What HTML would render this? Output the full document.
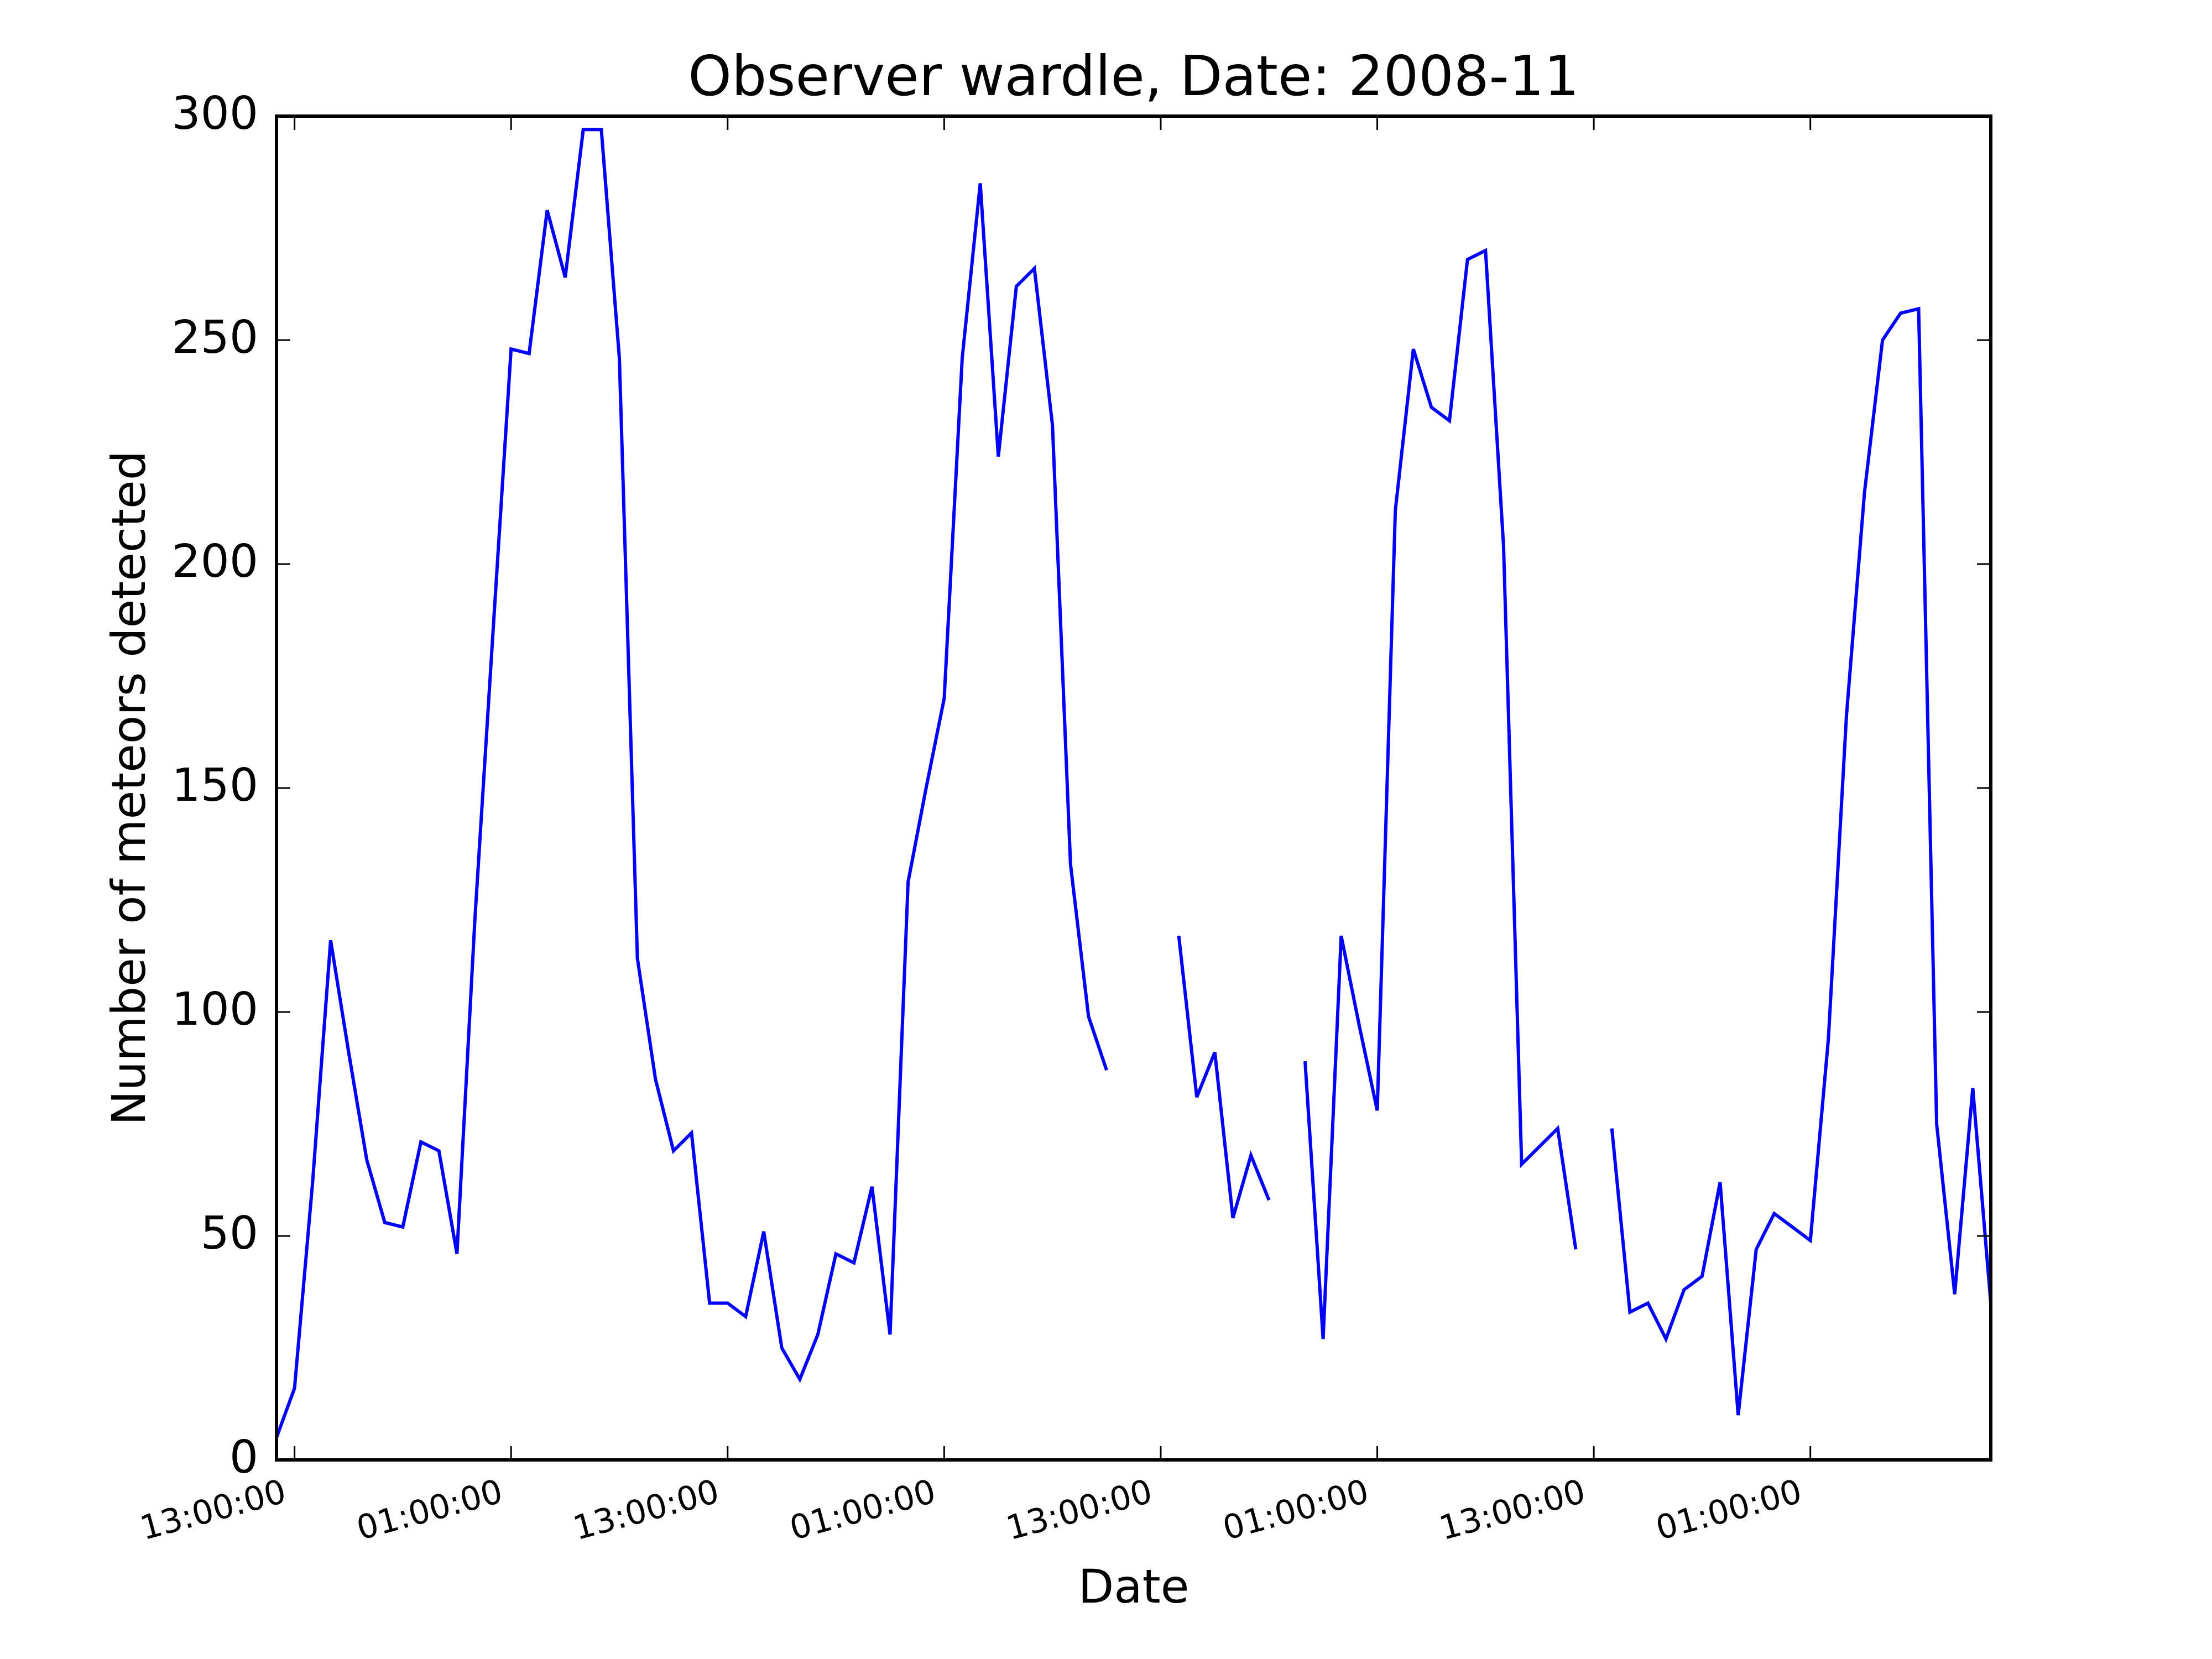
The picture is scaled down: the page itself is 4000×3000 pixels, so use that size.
<!DOCTYPE html>
<html><head><meta charset="utf-8"><style>
html,body{margin:0;padding:0;background:#fff;}
svg{display:block;font-family:"DejaVu Sans","Liberation Sans",sans-serif;}
</style></head><body>
<svg id="chart" width="4000" height="3000" viewBox="0 0 4000 3000">
<rect width="4000" height="3000" fill="#fff"/>
<text x="2050" y="172" text-anchor="middle" font-size="100">Observer wardle, Date: 2008-11</text>
<g id="lines"></g>
<rect x="500" y="210" width="3100" height="2430" fill="none" stroke="#000" stroke-width="6"/>
<g id="ticks"></g>
<text transform="translate(262,1425) rotate(-90)" text-anchor="middle" font-size="84">Number of meteors detected</text>
<text x="2050" y="2898" text-anchor="middle" font-size="84">Date</text>
</svg>
<script>
const counts=[5,16,62,116,91,67,53,52,71,69,46,121,185,248,247,279,264,297,297,246,112,85,69,73,35,35,32,51,25,18,28,46,44,61,28,129,150,170,246,285,224,262,266,231,133,99,87,null,null,null,117,81,91,54,68,58,null,89,27,117,97,78,212,248,235,232,268,270,204,66,70,74,47,null,74,33,35,27,38,41,62,10,47,55,52,49,94,166,216,250,256,257,75,37,83,35];
const yTicks=[0,50,100,150,200,250,300];
const xTickHours=[1,13,25,37,49,61,73,85];
const xTickLabels=["13:00:00","01:00:00","13:00:00","01:00:00","13:00:00","01:00:00","13:00:00","01:00:00"];
const L=500,R=3600,T=210,B=2640,HMAX=95.0,VMAX=300;
const NS="http://www.w3.org/2000/svg";
function xs(h){return L+h*(R-L)/HMAX;}
function ys(v){return B-v*(B-T)/VMAX;}
const lg=document.getElementById('lines');
let seg=[];
function flush(){
  if(seg.length>1){
    const p=document.createElementNS(NS,'polyline');
    p.setAttribute('points',seg.join(' '));
    p.setAttribute('fill','none');p.setAttribute('stroke','#0000ff');p.setAttribute('stroke-width','6');
    
    
    lg.appendChild(p);
  }
  seg=[];
}
counts.forEach((v,i)=>{if(v===null){flush();}else{seg.push(xs(i).toFixed(1)+','+ys(v).toFixed(1));}});
flush();
const tg=document.getElementById('ticks');
function line(x1,y1,x2,y2,name){
  const l=document.createElementNS(NS,'line');
  l.setAttribute('x1',x1);l.setAttribute('y1',y1);l.setAttribute('x2',x2);l.setAttribute('y2',y2);
  l.setAttribute('stroke','#000');l.setAttribute('stroke-width','3');
  
  
  tg.appendChild(l);
}
yTicks.forEach(v=>{
  const y=ys(v);
  line(L,y,L+25,y,'y-tick');line(R,y,R-25,y,'y-tick');
  const t=document.createElementNS(NS,'text');
  t.setAttribute('x',L-33);t.setAttribute('y',y+23);t.setAttribute('text-anchor','end');t.setAttribute('font-size','82');
  t.textContent=v;
  
  
  tg.appendChild(t);
});
xTickHours.forEach((h,i)=>{
  const x=xs(h);
  line(x,B,x,B-25,'x-tick');line(x,T,x,T+25,'x-tick');
  const t=document.createElementNS(NS,'text');
  t.setAttribute('transform','translate('+(x-12)+','+(B+75)+') rotate(-15)');
  t.setAttribute('text-anchor','end');t.setAttribute('font-size','60');
  t.textContent=xTickLabels[i];
  
  
  tg.appendChild(t);
});
</script>
</body></html>
